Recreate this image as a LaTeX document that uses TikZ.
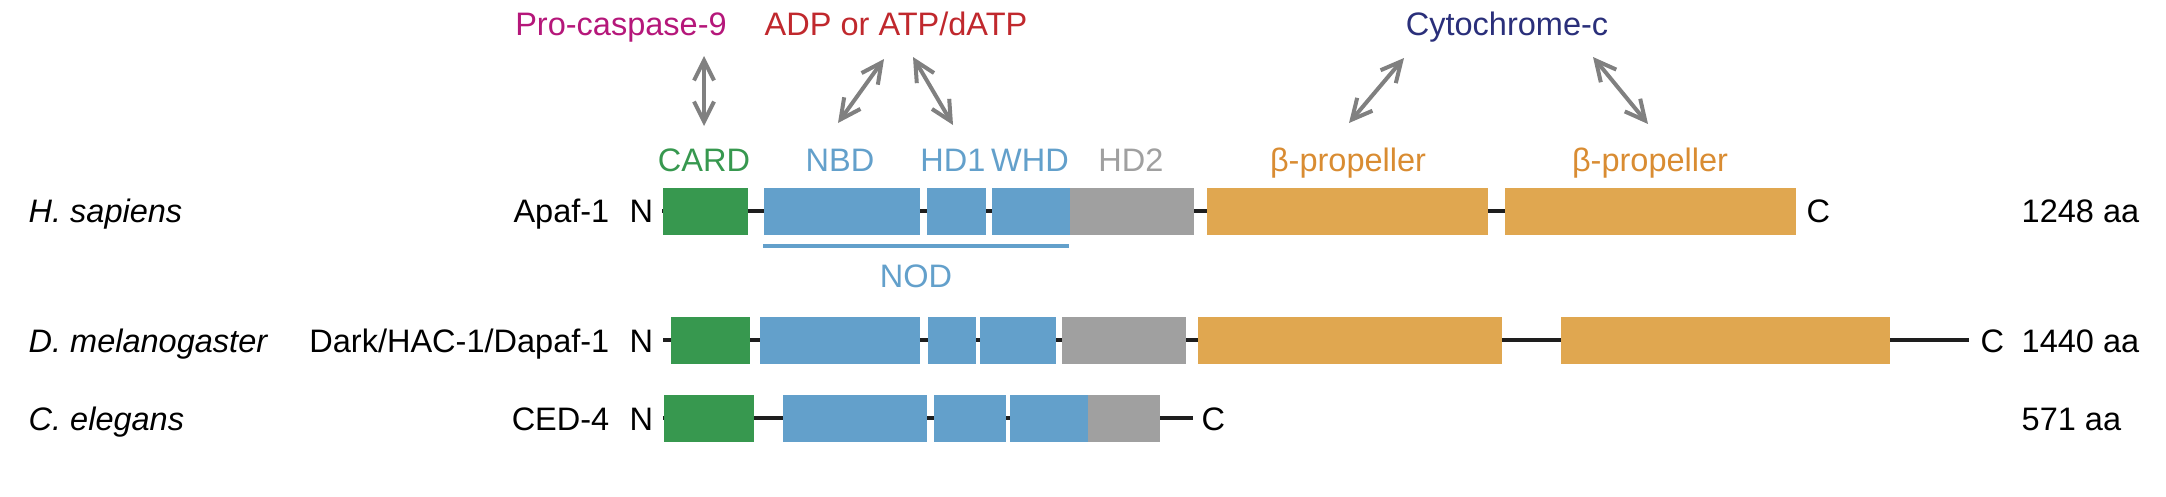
\documentclass[tikz,border=0pt]{standalone}
\usepackage{fontspec}
\setmainfont{Liberation Sans}
\usetikzlibrary{arrows.meta}
\definecolor{cardgreen}{RGB}{55,152,79}
\definecolor{nodblue}{RGB}{99,160,203}
\definecolor{hdgray}{RGB}{160,160,160}
\definecolor{proporange}{RGB}{224,167,80}
\definecolor{proplabel}{RGB}{217,140,50}
\definecolor{casp}{RGB}{181,23,122}
\definecolor{atpred}{RGB}{192,40,45}
\definecolor{cytblue}{RGB}{42,47,122}
\definecolor{arrowgray}{RGB}{128,128,128}
\definecolor{backbone}{RGB}{30,30,30}

\begin{document}
\begin{tikzpicture}[x=0.1mm, y=-0.1mm,
        font=\fontsize{9.25pt}{11pt}\selectfont,
        dom/.style={inner sep=0pt, minimum height=4.7mm, anchor=west},
        lbl/.style={anchor=base, inner sep=0pt},
        txt/.style={anchor=base west, inner sep=0pt},
        bb/.style={draw=backbone, line width=0.4mm},
        bind/.style={draw=arrowgray, line width=0.4mm,
            {Straight Barb[length=2mm,width=2mm]}-{Straight Barb[length=2mm,width=2mm]}}]
        \useasboundingbox (0,0) rectangle (2166,496);

        % partners
        \node (pc9) [lbl, text=casp] at (621,35) {Pro-caspase-9};
        \node (atp) [lbl, text=atpred] at (896,35) {ADP or ATP/dATP};
        \node (cytc) [lbl, text=cytblue] at (1507,35) {Cytochrome-c};

        % domain names
        \node (lcard) [lbl, text=cardgreen] at (704,171) {CARD};
        \node (lnbd) [lbl, text=nodblue] at (840,171) {NBD};
        \node (lhd1) [lbl, text=nodblue] at (953,171) {HD1};
        \node (lwhd) [lbl, text=nodblue] at (1030,171) {WHD};
        \node (lhd2) [lbl, text=hdgray] at (1131,171) {HD2};
        \node (lbp1) [lbl, text=proplabel] at (1348,171) {β-propeller};
        \node (lbp2) [lbl, text=proplabel] at (1650,171) {β-propeller};

        % binding arrows
        \coordinate (a1) at (704,56);   \coordinate (b1) at (704,126);
        \coordinate (a2) at (884,59);   \coordinate (b2) at (838,123);
        \coordinate (a3) at (913,57);   \coordinate (b3) at (953,125);
        \coordinate (a4) at (1404,58);  \coordinate (b4) at (1349,123);
        \coordinate (a5) at (1593,57);  \coordinate (b5) at (1648,124);
        \draw[bind] (a1) -- (b1);
        \draw[bind] (a2) -- (b2);
        \draw[bind] (a3) -- (b3);
        \draw[bind] (a4) -- (b4);
        \draw[bind] (a5) -- (b5);

        % H. sapiens
        \coordinate (hN) at (662,211);
        \coordinate (hC) at (1795,211);
        \draw[bb] (hN) -- (hC);
        \node (hcard) [dom, fill=cardgreen, minimum width=8.5mm] at (662,211) {};
        \node (hnbd) [dom, fill=nodblue, minimum width=15.6mm] at (763,211) {};
        \node (hhd1) [dom, fill=nodblue, minimum width=5.9mm] at (926,211) {};
        \node (hwhd) [dom, fill=nodblue, minimum width=7.8mm] at (991,211) {};
        \node (hhd2) [dom, fill=hdgray, minimum width=12.4mm] at (1069,211) {};
        \node (hbp1) [dom, fill=proporange, minimum width=28.1mm] at (1206,211) {};
        \node (hbp2) [dom, fill=proporange, minimum width=29.1mm] at (1504,211) {};
        \coordinate (nod1) at (763,246);
        \coordinate (nod2) at (1069,246);
        \draw[draw=nodblue, line width=0.4mm] (nod1) -- (nod2);
        \node (lnod) [lbl, text=nodblue] at (916,287) {NOD};
        \node (hsp) [txt] at (28,222) {\itshape H. sapiens};
        \node (hprot) [anchor=base east, inner sep=0pt] at (610,222) {Apaf-1};
        \node (hn) [txt] at (629,222) {N};
        \node (hc) [txt] at (1806,222) {C};
        \node (haa) [txt] at (2021,222) {1248 aa};

        % D. melanogaster
        \coordinate (dN) at (663,340);
        \coordinate (dC) at (1969,340);
        \draw[bb] (dN) -- (dC);
        \node (dcard) [dom, fill=cardgreen, minimum width=7.9mm] at (670,340) {};
        \node (dnbd) [dom, fill=nodblue, minimum width=16mm] at (759,340) {};
        \node (dhd1) [dom, fill=nodblue, minimum width=4.8mm] at (927,340) {};
        \node (dwhd) [dom, fill=nodblue, minimum width=7.6mm] at (979,340) {};
        \node (dhd2) [dom, fill=hdgray, minimum width=12.4mm] at (1061,340) {};
        \node (dbp1) [dom, fill=proporange, minimum width=30.4mm] at (1197,340) {};
        \node (dbp2) [dom, fill=proporange, minimum width=32.9mm] at (1560,340) {};
        \node (dsp) [txt] at (28,352) {\itshape D. melanogaster};
        \node (dprot) [anchor=base east, inner sep=0pt] at (610,352) {Dark/HAC-1/Dapaf-1};
        \node (dn) [txt] at (629,352) {N};
        \node (dc) [txt] at (1980,352) {C};
        \node (daa) [txt] at (2021,352) {1440 aa};

        % C. elegans
        \coordinate (cN) at (663,418);
        \coordinate (cC) at (1193,418);
        \draw[bb] (cN) -- (cC);
        \node (ccard) [dom, fill=cardgreen, minimum width=9mm] at (663,418) {};
        \node (cnbd) [dom, fill=nodblue, minimum width=14.4mm] at (782,418) {};
        \node (chd1) [dom, fill=nodblue, minimum width=7.2mm] at (933,418) {};
        \node (cwhd) [dom, fill=nodblue, minimum width=7.8mm] at (1009,418) {};
        \node (chd2) [dom, fill=hdgray, minimum width=7.2mm] at (1087,418) {};
        \node (csp) [txt] at (28,430) {\itshape C. elegans};
        \node (cprot) [anchor=base east, inner sep=0pt] at (610,430) {CED-4};
        \node (cn) [txt] at (629,430) {N};
        \node (cc) [txt] at (1201,430) {C};
        \node (caa) [txt] at (2021,430) {571 aa};
    \end{tikzpicture}
\end{document}
